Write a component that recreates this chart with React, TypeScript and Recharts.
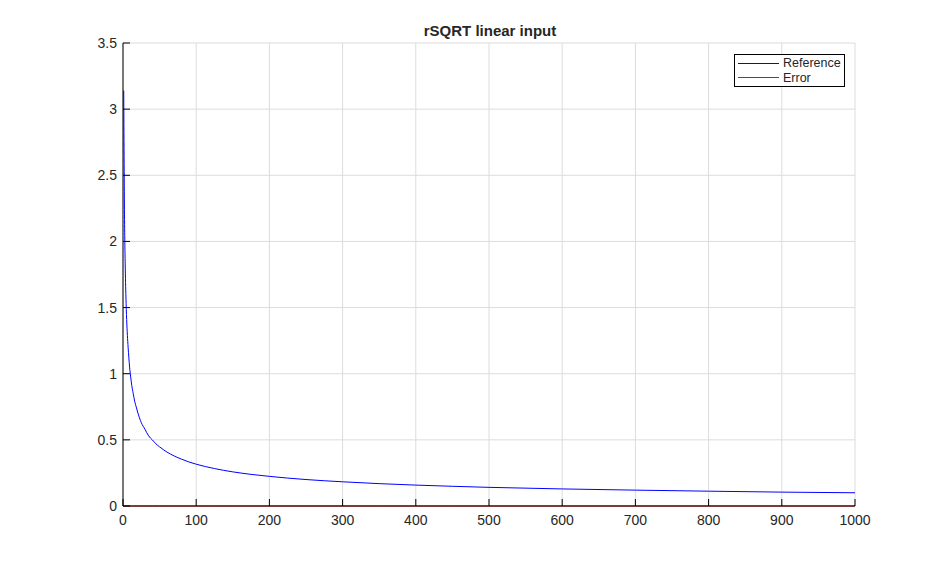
import { LineChart, Line, XAxis, YAxis, CartesianGrid } from 'recharts';

// sample positions (x) and values
const xs = [1, 2, 3, 4, 5, 6, 7, 8, 9, 10, 12, 14, 16, 18, 20, 25, 30, 35, 40, 45, 50, 60, 70, 80, 90, 100, 125, 150, 175, 200, 250, 300, 350, 400, 450, 500, 600, 700, 800, 900, 1000];
const reference = [3.14, 2.24, 1.83, 1.58, 1.41, 1.29, 1.2, 1.12, 1.05, 1.0, 0.91, 0.85, 0.79, 0.75, 0.71, 0.63, 0.58, 0.53, 0.5, 0.47, 0.447, 0.408, 0.378, 0.354, 0.333, 0.316, 0.283, 0.258, 0.239, 0.224, 0.2, 0.183, 0.169, 0.158, 0.149, 0.141, 0.129, 0.12, 0.112, 0.105, 0.1];
const error = [0, 0, 0, 0, 0, 0, 0, 0, 0, 0, 0, 0, 0, 0, 0, 0, 0, 0, 0, 0, 0, 0, 0, 0, 0, 0, 0, 0, 0, 0, 0, 0, 0, 0, 0, 0, 0, 0, 0, 0, 0];

const xTicks = [0, 100, 200, 300, 400, 500, 600, 700, 800, 900, 1000];
const yTicks = [0, 0.5, 1, 1.5, 2, 2.5, 3, 3.5];

const data = xs.map((x, i) => ({ x, reference: reference[i], error: error[i] }));

const font = '"Liberation Sans", Arial, sans-serif';
const textColor = '#262626';

const YTick = (props: any) => {
  const { x, y, payload } = props;
  return (
    <g>
      <line x1={x} x2={x + 7} y1={y} y2={y} stroke="#000" strokeWidth={1} />
      <text x={x - 6} y={y + 5} textAnchor="end" fontSize={14} fill={textColor} fontFamily={font}>
        {payload.value}
      </text>
    </g>
  );
};

const XTick = (props: any) => {
  const { x, y, payload } = props;
  return (
    <g>
      <line x1={x} x2={x} y1={y} y2={y - 7} stroke="#000" strokeWidth={1} />
      <text x={x} y={y + 19} textAnchor="middle" fontSize={14} fill={textColor} fontFamily={font}>
        {payload.value}
      </text>
    </g>
  );
};

const LegendBox = () => (
  <div
    style={{
      position: 'absolute',
      left: 734,
      top: 54,
      border: '1px solid #000',
      background: '#fff',
      width: 111,
      height: 33,
      boxSizing: 'border-box',
      padding: '1px 0 0 3px',
      fontFamily: font,
      fontSize: 12.5,
      color: textColor,
      lineHeight: '14.5px',
    }}
  >
    {[
      ['Reference', '#0000ff'],
      ['Error', '#ff0000'],
    ].map(([name, color]) => (
      <div key={name} style={{ display: 'flex', alignItems: 'center' }}>
        <span style={{ display: 'inline-block', width: 41, height: 1, background: color, marginRight: 4 }} />
        <span>{name}</span>
      </div>
    ))}
  </div>
);

export default function App() {
  return (
    <div style={{ position: 'absolute', left: 0, top: 0, width: 946, height: 569, background: '#fff' }}>
      <LineChart width={946} height={569} data={data} margin={{ top: 43, right: 91, left: 63, bottom: 33 }}>
        <CartesianGrid stroke="#dcdcdc" strokeWidth={1} />
        <XAxis
          type="number"
          dataKey="x"
          domain={[0, 1000]}
          ticks={xTicks}
          interval={0}
          height={30}
          tickSize={0}
          tickMargin={0}
          tick={<XTick />}
          tickLine={false}
          axisLine={{ stroke: '#000' }}
        />
        <YAxis
          type="number"
          domain={[0, 3.5]}
          ticks={yTicks}
          interval={0}
          width={60}
          tickSize={0}
          tickMargin={0}
          tick={<YTick />}
          tickLine={false}
          axisLine={{ stroke: '#000' }}
        />
        <Line type="monotone" dataKey="error" name="Error" stroke="#ff0000" strokeWidth={1} dot={false} isAnimationActive={false} />
        <Line type="monotone" dataKey="reference" name="Reference" stroke="#0000ff" strokeWidth={1} dot={false} isAnimationActive={false} />
      </LineChart>
      <div
        style={{
          position: 'absolute',
          left: 290,
          width: 400,
          top: 22,
          textAlign: 'center',
          fontFamily: font,
          fontWeight: 'bold',
          fontSize: 15,
          color: textColor,
        }}
      >
        rSQRT linear input
      </div>
      <LegendBox />
    </div>
  );
}
